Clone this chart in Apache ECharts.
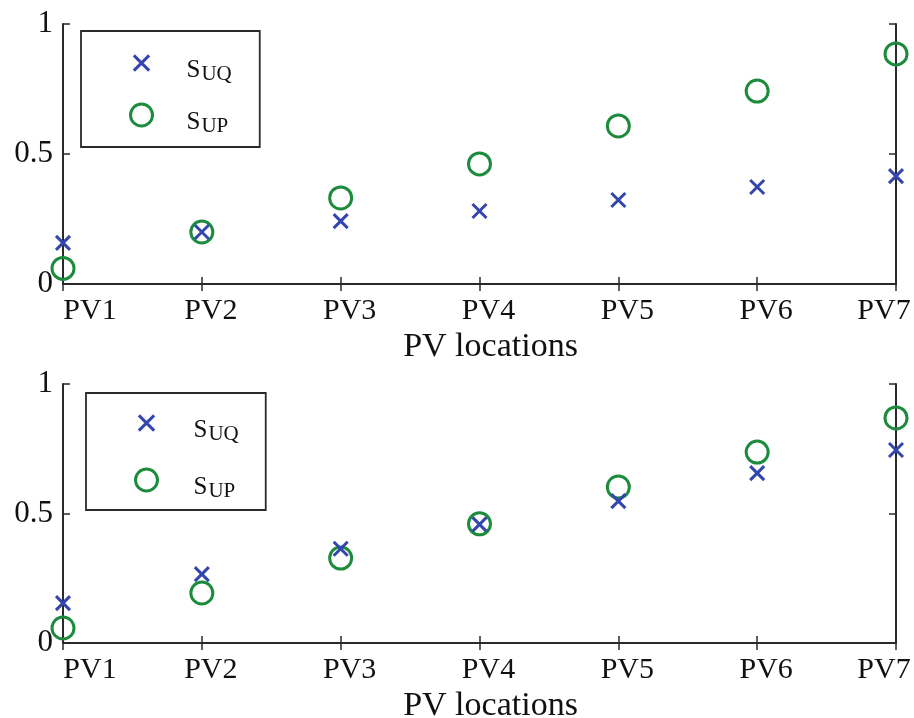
<!DOCTYPE html>
<html><head><meta charset="utf-8">
<script src="https://cdn.jsdelivr.net/npm/echarts@6/dist/echarts.min.js"></script>
<style>html,body{margin:0;padding:0;background:#fff;overflow:hidden}#c{width:914px;height:718px}</style>
</head><body><div id="c"></div>
<script>
const categories = ['PV1','PV2','PV3','PV4','PV5','PV6','PV7'];
const yTicks = [0, 0.5, 1];
const topSUQ = [0.158, 0.200, 0.242, 0.281, 0.323, 0.373, 0.415];
const topSUP = [0.060, 0.200, 0.331, 0.462, 0.608, 0.742, 0.885];
const botSUQ = [0.154, 0.266, 0.364, 0.458, 0.548, 0.656, 0.745];
const botSUP = [0.058, 0.193, 0.328, 0.460, 0.602, 0.737, 0.869];
const xTitle = 'PV locations';
const nameUQ = 'SUQ', nameUP = 'SUP';

const FONT = '"Liberation Serif", "DejaVu Serif", serif';
const BLUE = '#3346b0', GREEN = '#1c8c3c', AX = '#2a2a2a';
const CROSS = 'path://M0,0L10,10M10,0L0,10';
const CROSS_LEG = 'path://M-2.2,-2.2M0,0L10,10M10,0L0,10M12.2,12.2';

const grids = [
  {left: 63, right: 18, top: 24, height: 260, outerBoundsMode: 'none', containLabel: false},
  {left: 63, right: 18, top: 384, height: 259, outerBoundsMode: 'none', containLabel: false}
];
const legendPos = [
  {left: 81, top: 31, gap: 8, pad: [10, 28, 10, 48], textPad: 29},
  {left: 86, top: 393, gap: 13, pad: [8, 27, 8, 48], textPad: 31}
];
const labFont = {fontFamily: FONT, fontSize: 30, color: '#111'};
const xLabelFormatter = (v, idx) => {
  const k = idx === 0 ? 'first' : (idx === categories.length - 1 ? 'last' : 'mid');
  return '{' + k + '|' + v + '}';
};
const xAxes = [], yAxes = [], series = [], legends = [];
const tickStyle = {show: true, inside: true, interval: 0, length: 7, lineStyle: {color: AX, width: 1.5}};
const lineStyle = {show: true, lineStyle: {color: AX, width: 2}};
grids.forEach((g, i) => {
  xAxes.push({gridIndex: i, type: 'category', data: categories, boundaryGap: false, position: 'bottom',
    axisLine: lineStyle, axisTick: Object.assign({alignWithLabel: true}, tickStyle),
    axisLabel: {color: '#111', fontFamily: FONT, fontSize: 30, margin: 12, interval: 0, hideOverlap: false,
      formatter: xLabelFormatter,
      rich: {
        first: Object.assign({padding: [0, 0, 0, 54]}, labFont),
        mid: Object.assign({padding: [0, 0, 0, 18]}, labFont),
        last: Object.assign({padding: [0, 24, 0, 0]}, labFont)
      }},
    name: xTitle, nameLocation: 'middle', nameGap: 46,
    nameTextStyle: {color: '#111', fontFamily: FONT, fontSize: 34, padding: [0, 0, 0, 22]},
    splitLine: {show: false}});
  xAxes.push({gridIndex: i, type: 'category', data: categories, boundaryGap: false, position: 'top',
    axisLine: lineStyle, axisTick: tickStyle, axisLabel: {show: false, interval: 0}, splitLine: {show: false}});
  yAxes.push({gridIndex: i, type: 'value', min: yTicks[0], max: yTicks[yTicks.length-1], interval: 0.5, position: 'left',
    axisLine: lineStyle, axisTick: tickStyle,
    axisLabel: {color: '#111', fontFamily: FONT, fontSize: 31, margin: 10},
    splitLine: {show: false}});
  yAxes.push({gridIndex: i, type: 'value', min: yTicks[0], max: yTicks[yTicks.length-1], interval: 0.5, position: 'right',
    axisLine: lineStyle, axisTick: tickStyle, axisLabel: {show: false}, splitLine: {show: false}});
  const dq = i === 0 ? topSUQ : botSUQ;
  const dp = i === 0 ? topSUP : botSUP;
  series.push({name: nameUP, type: 'scatter', xAxisIndex: 2*i, yAxisIndex: 2*i, data: dp,
    symbol: 'circle', symbolSize: 22,
    itemStyle: {color: 'rgba(0,0,0,0)', borderColor: GREEN, borderWidth: 3, opacity: 1},
    emphasis: {disabled: true}, z: 2});
  series.push({name: nameUQ, type: 'scatter', xAxisIndex: 2*i, yAxisIndex: 2*i, data: dq,
    symbol: CROSS, symbolSize: 14,
    itemStyle: {color: 'rgba(0,0,0,0)', borderColor: BLUE, borderWidth: 3, opacity: 1},
    emphasis: {disabled: true}, z: 3});
  const L = legendPos[i];
  legends.push({
    orient: 'vertical', left: L.left, top: L.top,
    data: [
      {name: nameUQ, icon: CROSS_LEG, itemStyle: {color: 'rgba(0,0,0,0)', borderColor: BLUE, borderWidth: 3}},
      {name: nameUP, icon: 'circle', itemStyle: {color: 'rgba(0,0,0,0)', borderColor: GREEN, borderWidth: 3}}
    ],
    itemWidth: 22, itemHeight: 22, itemGap: L.gap,
    padding: L.pad,
    borderColor: AX, borderWidth: 1.8, backgroundColor: '#fff',
    selectedMode: false,
    formatter: n => n === nameUQ ? '{s|S}{sub|UQ}' : '{s|S}{sub|UP}',
    textStyle: {color: '#111', fontFamily: FONT, padding: [0, 0, 0, L.textPad],
      rich: {
        s: {fontFamily: FONT, fontSize: 25, lineHeight: 25, padding: [17, 0, 2, 0], color: '#111'},
        sub: {fontFamily: FONT, fontSize: 21, lineHeight: 21, padding: [23, 0, 0, 1], color: '#111'}
      }}
  });
});

const chart = echarts.init(document.getElementById('c'), null, {renderer: 'canvas'});
chart.setOption({
  animation: false,
  backgroundColor: '#fff',
  grid: grids,
  xAxis: xAxes, yAxis: yAxes,
  legend: legends,
  series: series
});
</script></body></html>
